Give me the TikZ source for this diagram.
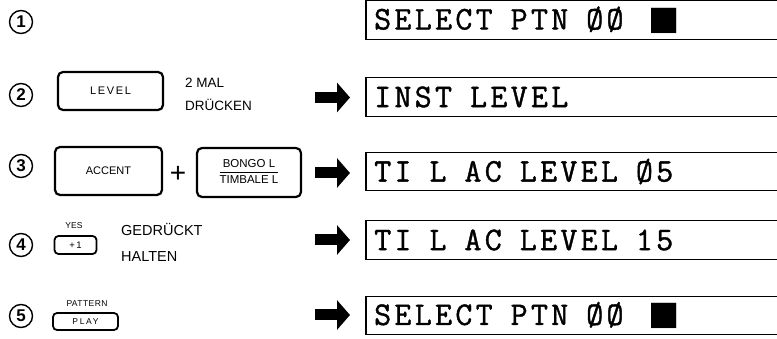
\documentclass[tikz,border=0pt]{standalone}
\usepackage{fontspec}
\setmainfont{Liberation Sans}
\newfontfamily\lcdfont[LetterSpace=10, FakeBold=1.2]{Latin Modern Mono}
\newfontfamily\symfont{DejaVu Sans}
\newcommand\lcdsetup{\lcdfont\fontsize{33}{33}\selectfont}
\newcommand\lcdgap{\hspace*{18pt}}
\newcommand\lcdwide{\hspace*{25pt}}
\usetikzlibrary{arrows.meta}
\begin{document}
\begin{tikzpicture}[x=1pt,y=-1pt,
 disp/.style={anchor=west, inner xsep=8pt, inner ysep=0pt, text width=420pt, minimum height=38pt, align=left, font=\lcdsetup},
 dispframe/.style={line width=1.1pt},
 btn/.style={draw, line width=2.2pt, rounded corners=5pt, inner sep=0pt, font=\fontsize{11}{12}\selectfont},
 smallbtn/.style={draw, line width=1.8pt, rounded corners=4pt, inner sep=0pt, font=\fontsize{9.5}{10}\selectfont},
 keylabel/.style={inner sep=0pt, font=\fontsize{8.5}{9}\selectfont},
 note/.style={anchor=west, inner sep=0pt, font=\fontsize{13.5}{14}\selectfont},
 bignote/.style={anchor=west, inner sep=0pt, font=\fontsize{14.5}{15}\selectfont},
 stepnum/.style={circle, draw, line width=1.4pt, inner sep=0pt, minimum size=23pt, font=\bfseries\fontsize{17}{17}\selectfont},
 bigarrow/.style={line width=11pt, -{Triangle[length=13pt,width=29pt]}, shorten >=16pt},
]
\useasboundingbox (0,0) rectangle (777,339);

% displays
\node[disp] (d1) at (366,20) {SELECT\lcdgap PTN\lcdgap ØØ\lcdwide{\symfont ■}};
\node[disp] (d2) at (366,97) {INST\lcdgap LEVEL};
\node[disp] (d3) at (366,171.5) {TI\lcdgap L\lcdgap AC\lcdgap LEVEL\lcdgap Ø5};
\node[disp] (d4) at (366,240) {TI\lcdgap L\lcdgap AC\lcdgap LEVEL\lcdgap 15};
\node[disp] (d5) at (366,315.5) {SELECT\lcdgap PTN\lcdgap ØØ\lcdwide{\symfont ■}};
\foreach \d in {d1,d2,d3,d4,d5}
  \draw[dispframe] (\d.north east) -- (\d.north west) -- (\d.south west) -- (\d.south east);

% step numbers
\node[stepnum] (n1) at (21,22) {1};
\node[stepnum] (n2) at (21,95) {2};
\node[stepnum] (n3) at (21,166) {3};
\node[stepnum] (n4) at (21,245) {4};
\node[stepnum] (n5) at (21,316) {5};

% step 2
\node[btn, minimum width=105pt, minimum height=38pt] (lvl) at (110.5,91) {\addfontfeature{LetterSpace=15}LEVEL};
\node[note] (m1) at (185,83) {2 MAL};
\node[note] (m2) at (185,105) {DRÜCKEN};

% step 3
\node[btn, minimum width=107pt, minimum height=48pt] (acc) at (108.5,171) {ACCENT};
\node[font=\rmfamily\fontsize{28}{28}\selectfont, inner sep=0pt] (plus) at (178,174) {+};
\node[btn, minimum width=104pt, minimum height=49pt, font=\fontsize{11.5}{12}\selectfont] (bongo) at (249,172.5)
  {\setlength{\tabcolsep}{0pt}\setlength{\arrayrulewidth}{0.9pt}\renewcommand{\arraystretch}{1.25}\begin{tabular}{c}BONGO L\\\hline TIMBALE L\end{tabular}};

% step 4
\node[keylabel] (yes) at (74,226) {YES};
\node[smallbtn, minimum width=42pt, minimum height=18pt] (plusone) at (75.5,245) {+\,1};
\node[bignote] (g1) at (121,230) {GEDRÜCKT};
\node[bignote] (g2) at (121,257) {HALTEN};

% step 5
\node[keylabel] (pat) at (87,304) {\addfontfeature{LetterSpace=5}PATTERN};
\node[smallbtn, minimum width=65pt, minimum height=17pt, font=\fontsize{8.5}{9}\selectfont] (play) at (85.5,321.5) {\addfontfeature{LetterSpace=20}PLAY};

% arrows
\coordinate (a2) at (315,97.5);
\coordinate (a3) at (315,173);
\coordinate (a4) at (315,240);
\coordinate (a5) at (315,315);
\draw[bigarrow] (a2) -- (a2 -| d2.west);
\draw[bigarrow] (a3) -- (a3 -| d3.west);
\draw[bigarrow] (a4) -- (a4 -| d4.west);
\draw[bigarrow] (a5) -- (a5 -| d5.west);
\end{tikzpicture}
\end{document}
